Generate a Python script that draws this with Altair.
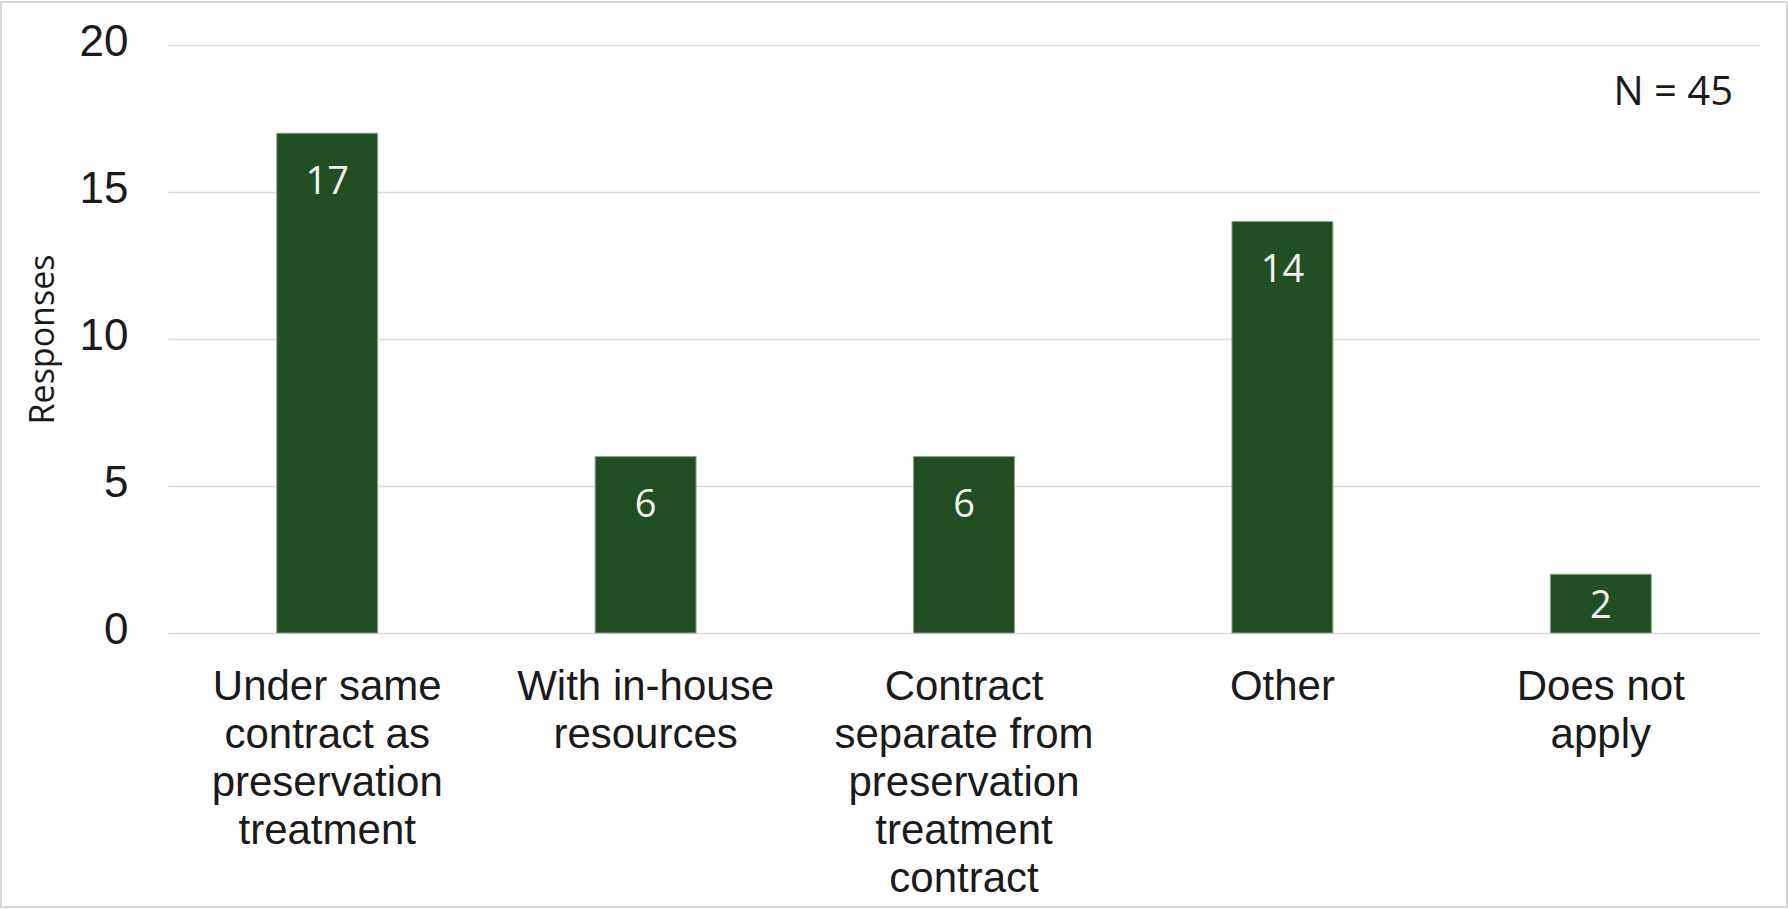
import altair as alt
import pandas as pd

# Survey answers and their counts
categories = [
    "Under same contract as preservation treatment",
    "With in-house resources",
    "Contract separate from preservation treatment contract",
    "Other",
    "Does not apply",
]
responses = [17, 6, 6, 14, 2]

# How each axis label wraps onto lines
label_lines = [
    ["Under same", "contract as", "preservation", "treatment"],
    ["With in-house", "resources"],
    ["Contract", "separate from", "preservation", "treatment", "contract"],
    ["Other"],
    ["Does not", "apply"],
]

y_ticks = [0, 5, 10, 15, 20]
sample_note = "N = 45"

df = pd.DataFrame({"category": categories, "responses": responses})

# Build a label expression that maps each category to its wrapped lines
expr = "datum.label"
for cat, lines in reversed(list(zip(categories, label_lines))):
    arr = "[" + ",".join("'" + s + "'" for s in lines) + "]"
    expr = f"datum.label == '{cat}' ? {arr} : ({expr})"

BAR = "#224e24"
W, H = 1592, 588

x_enc = alt.X(
    "category:N",
    sort=None,
    scale=alt.Scale(paddingInner=0, paddingOuter=0),
    axis=alt.Axis(
        title=None,
        labelAngle=0,
        labelExpr=expr,
        labelFont="Liberation Sans",
        labelFontSize=42,
        labelLineHeight=48,
        labelLimit=0,
        labelColor="#1a1a1a",
        labelPadding=33,
        ticks=False,
        domain=False,
        grid=False,
        labelAlign="center",
        labelBaseline="top",
    ),
)

y_scale = alt.Scale(domain=[0, 20], nice=False)

bars = alt.Chart(df).mark_bar(
    color=BAR, stroke="#8fa38f", strokeWidth=1, width=alt.RelativeBandSize(0.317)
).encode(
    x=x_enc,
    y=alt.Y(
        "responses:Q",
        scale=y_scale,
        axis=alt.Axis(
            values=y_ticks,
            title="Responses",
            titleFont="Open Sans",
            titleFontSize=34,
            titleFontWeight="normal",
            titleColor="#1a1a1a",
            titleAngle=-90,
            titleX=-125,
            titleY=H / 2,
            titleAlign="center",
            titleBaseline="middle",
            labelFont="Liberation Sans",
            labelFontSize=44,
            labelColor="#1a1a1a",
            labelPadding=40,
            labelOffset=-3,
            ticks=False,
            domain=False,
            grid=True,
            gridColor="#d9d9d9",
            gridWidth=1.5,
        ),
    ),
)

# Value labels sit just inside the top of each bar (centred when the bar is short)
labels = alt.Chart(df).transform_calculate(
    label_y="max(datum.responses - 1.58, datum.responses / 2)"
).mark_text(
    font="Open Sans", fontSize=38, color="#f2f2f2", baseline="middle", align="center", dy=3
).encode(
    x=alt.X("category:N", sort=None),
    y=alt.Y("label_y:Q", scale=y_scale),
    text=alt.Text("responses:Q"),
)

note = alt.Chart(pd.DataFrame({"t": [sample_note]})).mark_text(
    font="Open Sans", fontSize=40, color="#1a1a1a", align="right", baseline="alphabetic"
).encode(x=alt.value(1565), y=alt.value(60), text="t:N")

# Light frame around the whole figure
frame = alt.Chart(pd.DataFrame({"k": [0]})).mark_rect(
    fill=None, stroke="#d9d9d9", strokeWidth=2
).encode(
    x=alt.value(-167), x2=alt.value(W + 27), y=alt.value(-43), y2=alt.value(H + 274)
)

chart = alt.layer(frame, bars, labels, note).properties(
    width=W,
    height=H,
    background="white",
    padding={"left": 168, "top": 45, "right": 28, "bottom": 276},
    autosize=alt.AutoSizeParams(type="none"),
).configure_view(stroke=None)

chart.save("out.html", embed_options={"renderer": "svg", "actions": False})
